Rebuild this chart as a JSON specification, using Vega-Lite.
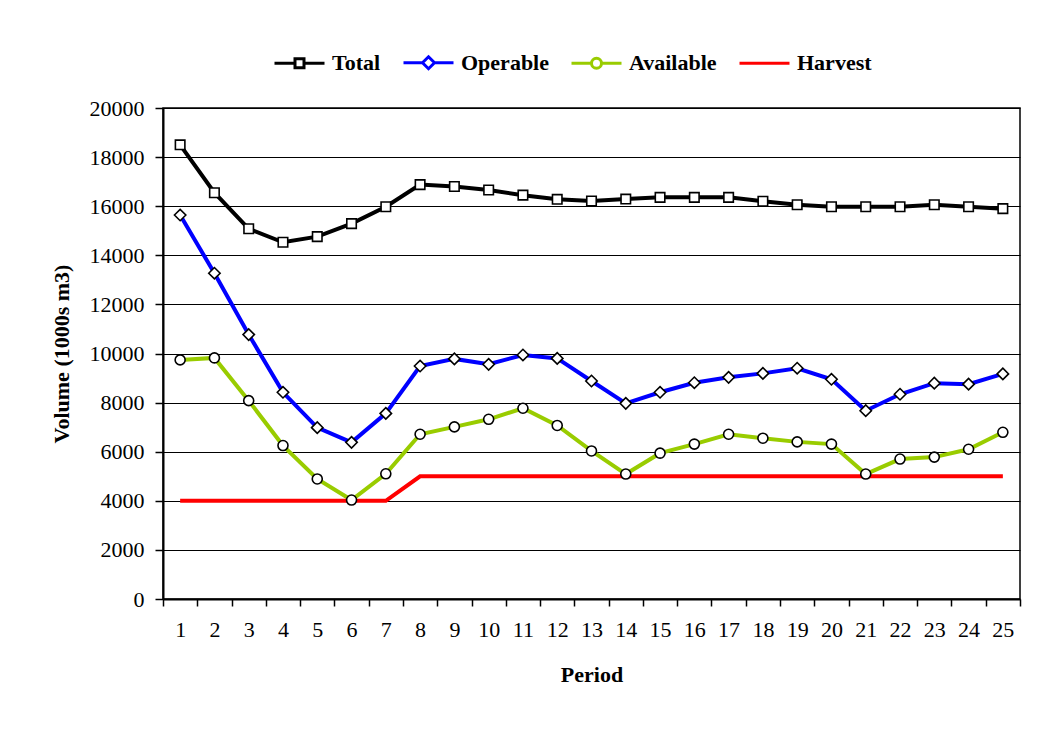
{
  "$schema": "https://vega.github.io/schema/vega-lite/v6.json",
  "autosize": {"type": "none"},
  "padding": {"left": 163, "top": 108, "right": 22, "bottom": 133},
  "width": 857,
  "height": 491,
  "background": "white",
  "config": {
    "font": "Liberation Serif",
    "view": {"stroke": "black", "strokeWidth": 1.5},
    "axis": {
      "labelFont": "Liberation Serif",
      "titleFont": "Liberation Serif",
      "labelColor": "black",
      "titleColor": "black",
      "labelFontSize": 22,
      "titleFontSize": 22,
      "titleFontWeight": "bold",
      "domainColor": "black",
      "tickColor": "black",
      "domainWidth": 2,
      "tickWidth": 1.5
    },
    "legend": {
      "labelFont": "Liberation Serif",
      "labelFontSize": 22,
      "labelFontWeight": "bold",
      "labelColor": "black"
    }
  },
  "datasets": {
    "vol": [
      {"period": 1, "series": "Total", "value": 18500},
      {"period": 2, "series": "Total", "value": 16550},
      {"period": 3, "series": "Total", "value": 15080},
      {"period": 4, "series": "Total", "value": 14530},
      {"period": 5, "series": "Total", "value": 14760},
      {"period": 6, "series": "Total", "value": 15290},
      {"period": 7, "series": "Total", "value": 15980},
      {"period": 8, "series": "Total", "value": 16880},
      {"period": 9, "series": "Total", "value": 16800},
      {"period": 10, "series": "Total", "value": 16660},
      {"period": 11, "series": "Total", "value": 16450},
      {"period": 12, "series": "Total", "value": 16280},
      {"period": 13, "series": "Total", "value": 16210},
      {"period": 14, "series": "Total", "value": 16290},
      {"period": 15, "series": "Total", "value": 16360},
      {"period": 16, "series": "Total", "value": 16360},
      {"period": 17, "series": "Total", "value": 16360},
      {"period": 18, "series": "Total", "value": 16200},
      {"period": 19, "series": "Total", "value": 16060},
      {"period": 20, "series": "Total", "value": 15980},
      {"period": 21, "series": "Total", "value": 15980},
      {"period": 22, "series": "Total", "value": 15980},
      {"period": 23, "series": "Total", "value": 16060},
      {"period": 24, "series": "Total", "value": 15980},
      {"period": 25, "series": "Total", "value": 15900},
      {"period": 1, "series": "Operable", "value": 15640},
      {"period": 2, "series": "Operable", "value": 13270},
      {"period": 3, "series": "Operable", "value": 10770},
      {"period": 4, "series": "Operable", "value": 8420},
      {"period": 5, "series": "Operable", "value": 6980},
      {"period": 6, "series": "Operable", "value": 6380},
      {"period": 7, "series": "Operable", "value": 7560},
      {"period": 8, "series": "Operable", "value": 9490},
      {"period": 9, "series": "Operable", "value": 9780},
      {"period": 10, "series": "Operable", "value": 9560},
      {"period": 11, "series": "Operable", "value": 9940},
      {"period": 12, "series": "Operable", "value": 9800},
      {"period": 13, "series": "Operable", "value": 8880},
      {"period": 14, "series": "Operable", "value": 7970},
      {"period": 15, "series": "Operable", "value": 8420},
      {"period": 16, "series": "Operable", "value": 8810},
      {"period": 17, "series": "Operable", "value": 9030},
      {"period": 18, "series": "Operable", "value": 9190},
      {"period": 19, "series": "Operable", "value": 9400},
      {"period": 20, "series": "Operable", "value": 8950},
      {"period": 21, "series": "Operable", "value": 7670},
      {"period": 22, "series": "Operable", "value": 8340},
      {"period": 23, "series": "Operable", "value": 8790},
      {"period": 24, "series": "Operable", "value": 8750},
      {"period": 25, "series": "Operable", "value": 9170},
      {"period": 1, "series": "Available", "value": 9740},
      {"period": 2, "series": "Available", "value": 9820},
      {"period": 3, "series": "Available", "value": 8080},
      {"period": 4, "series": "Available", "value": 6250},
      {"period": 5, "series": "Available", "value": 4890},
      {"period": 6, "series": "Available", "value": 4030},
      {"period": 7, "series": "Available", "value": 5100},
      {"period": 8, "series": "Available", "value": 6710},
      {"period": 9, "series": "Available", "value": 7010},
      {"period": 10, "series": "Available", "value": 7320},
      {"period": 11, "series": "Available", "value": 7770},
      {"period": 12, "series": "Available", "value": 7070},
      {"period": 13, "series": "Available", "value": 6030},
      {"period": 14, "series": "Available", "value": 5090},
      {"period": 15, "series": "Available", "value": 5940},
      {"period": 16, "series": "Available", "value": 6310},
      {"period": 17, "series": "Available", "value": 6710},
      {"period": 18, "series": "Available", "value": 6550},
      {"period": 19, "series": "Available", "value": 6400},
      {"period": 20, "series": "Available", "value": 6310},
      {"period": 21, "series": "Available", "value": 5090},
      {"period": 22, "series": "Available", "value": 5700},
      {"period": 23, "series": "Available", "value": 5780},
      {"period": 24, "series": "Available", "value": 6100},
      {"period": 25, "series": "Available", "value": 6790},
      {"period": 1, "series": "Harvest", "value": 4000},
      {"period": 2, "series": "Harvest", "value": 4000},
      {"period": 3, "series": "Harvest", "value": 4000},
      {"period": 4, "series": "Harvest", "value": 4000},
      {"period": 5, "series": "Harvest", "value": 4000},
      {"period": 6, "series": "Harvest", "value": 4000},
      {"period": 7, "series": "Harvest", "value": 4000},
      {"period": 8, "series": "Harvest", "value": 5000},
      {"period": 9, "series": "Harvest", "value": 5000},
      {"period": 10, "series": "Harvest", "value": 5000},
      {"period": 11, "series": "Harvest", "value": 5000},
      {"period": 12, "series": "Harvest", "value": 5000},
      {"period": 13, "series": "Harvest", "value": 5000},
      {"period": 14, "series": "Harvest", "value": 5000},
      {"period": 15, "series": "Harvest", "value": 5000},
      {"period": 16, "series": "Harvest", "value": 5000},
      {"period": 17, "series": "Harvest", "value": 5000},
      {"period": 18, "series": "Harvest", "value": 5000},
      {"period": 19, "series": "Harvest", "value": 5000},
      {"period": 20, "series": "Harvest", "value": 5000},
      {"period": 21, "series": "Harvest", "value": 5000},
      {"period": 22, "series": "Harvest", "value": 5000},
      {"period": 23, "series": "Harvest", "value": 5000},
      {"period": 24, "series": "Harvest", "value": 5000},
      {"period": 25, "series": "Harvest", "value": 5000}
    ]
  },
  "data": {"name": "vol"},
  "encoding": {
    "x": {
      "field": "period",
      "type": "ordinal",
      "bandPosition": 0.5,
      "scale": {"type": "band", "paddingInner": 0, "paddingOuter": 0},
      "axis": {
        "title": "Period",
        "labelAngle": 0,
        "tickBand": "extent",
        "tickSize": 7,
        "labelPadding": 13,
        "titlePadding": 24,
        "grid": false
      }
    },
    "y": {
      "field": "value",
      "type": "quantitative",
      "scale": {"domain": [0, 20000], "nice": false, "zero": true},
      "axis": {
        "title": "Volume (1000s m3)",
        "values": [0, 2000, 4000, 6000, 8000, 10000, 12000, 14000, 16000, 18000, 20000],
        "format": "d",
        "tickSize": 8,
        "labelPadding": 11,
        "titlePadding": 16,
        "grid": true,
        "gridColor": "black",
        "gridWidth": 1,
        "gridOpacity": 1
      }
    }
  },
  "layer": [
    {
      "mark": {"type": "line", "strokeWidth": 4},
      "encoding": {
        "color": {
          "field": "series",
          "type": "nominal",
          "scale": {
            "domain": ["Total", "Operable", "Available", "Harvest"],
            "range": ["#000000", "#0000FF", "#99CC00", "#FF0000"]
          },
          "legend": {
            "title": null,
            "orient": "none",
            "direction": "horizontal",
            "legendX": 110,
            "legendY": -72,
            "symbolSize": 2500,
            "symbolStrokeWidth": 3,
            "labelOffset": 6,
            "columnPadding": 16,
            "labelLimit": 300
          }
        }
      }
    },
    {
      "transform": [{"filter": "datum.series === 'Total'"}],
      "mark": {"type": "point", "shape": "square", "size": 90, "fill": "white", "stroke": "black", "strokeWidth": 1.6, "opacity": 1}
    },
    {
      "transform": [{"filter": "datum.series === 'Operable'"}],
      "mark": {"type": "point", "shape": "diamond", "size": 130, "fill": "white", "stroke": "black", "strokeWidth": 1.6, "opacity": 1}
    },
    {
      "transform": [{"filter": "datum.series === 'Available'"}],
      "mark": {"type": "point", "shape": "circle", "size": 100, "fill": "white", "stroke": "black", "strokeWidth": 1.6, "opacity": 1}
    },
    {
      "transform": [{"filter": "false"}],
      "mark": {"type": "point", "filled": false, "opacity": 1},
      "encoding": {
        "color": {
          "field": "series",
          "type": "nominal",
          "scale": {
            "domain": ["Total", "Operable", "Available", "Harvest"],
            "range": ["#000000", "#0000FF", "#99CC00", "#FF0000"]
          },
          "legend": {
            "title": null,
            "orient": "none",
            "direction": "horizontal",
            "legendX": 110,
            "legendY": -72,
            "symbolSize": 2500,
            "symbolStrokeWidth": 3,
            "labelOffset": 6,
            "columnPadding": 16,
            "labelLimit": 300
          }
        },
        "shape": {
          "field": "series",
          "type": "nominal",
          "scale": {
            "domain": ["Total", "Operable", "Available", "Harvest"],
            "range": [
              "M-1,0H-0.18M0.18,0H1M-0.18,-0.18H0.18V0.18H-0.18Z",
              "M-1,0H-0.24M0.24,0H1M0,-0.24L0.24,0L0,0.24L-0.24,0Z",
              "M-1,0H-0.2M0.2,0H1M0.2,0A0.2,0.2 0 1,1 -0.2,0A0.2,0.2 0 1,1 0.2,0Z",
              "M-1,0H1"
            ]
          },
          "legend": {
            "title": null,
            "orient": "none",
            "direction": "horizontal",
            "legendX": 110,
            "legendY": -72,
            "symbolSize": 2500,
            "symbolStrokeWidth": 3,
            "labelOffset": 6,
            "columnPadding": 16,
            "labelLimit": 300
          }
        }
      }
    }
  ]
}
